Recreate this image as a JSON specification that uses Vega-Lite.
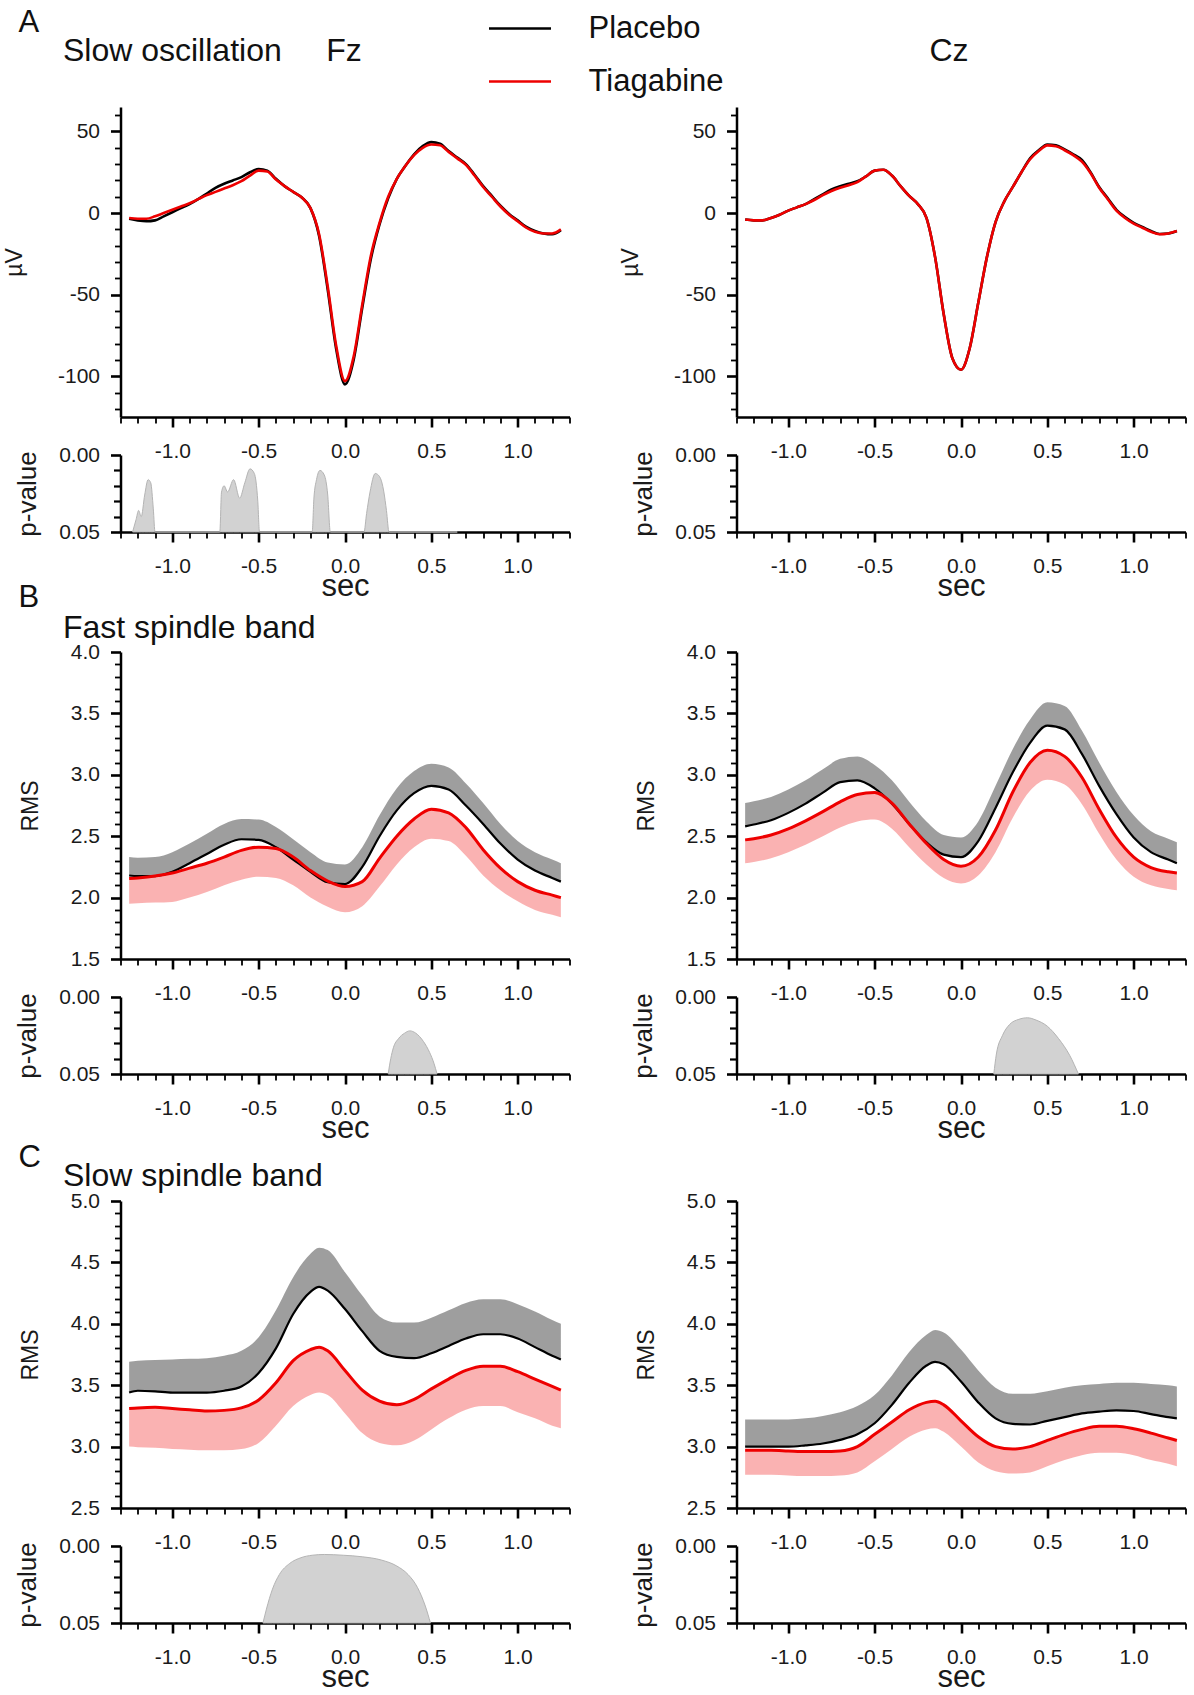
{
  "$schema": "https://vega.github.io/schema/vega-lite/v6.json",
  "padding": {"left": 3.5, "top": 0, "right": 0, "bottom": 0},
  "background": "white",
  "config": {
    "view": {"stroke": null},
    "font": "Liberation Sans",
    "axis": {"grid": false, "domainColor": "#000000", "domainWidth": 2.5, "tickColor": "#000000", "labelFont": "Liberation Sans", "labelFontSize": 21, "labelColor": "#1a1a1a", "titleFont": "Liberation Sans", "titleFontWeight": "normal", "titleColor": "#1a1a1a", "labelOverlap": false, "labelFlush": false, "labelBound": false},
    "title": {"font": "Liberation Sans", "fontWeight": "normal", "color": "#111111", "fontSize": 31, "subtitleFont": "Liberation Sans", "subtitleFontSize": 32, "subtitleColor": "#111111", "anchor": "start", "frame": "group"}
  },
  "datasets": {
    "aFz": [
      {"t":-1.25,"cond":"Placebo","v":-3.5},{"t":-1.2,"cond":"Placebo","v":-4.5},{"t":-1.15,"cond":"Placebo","v":-5},{"t":-1.1,"cond":"Placebo","v":-4.5},{"t":-1.05,"cond":"Placebo","v":-2},{"t":-1,"cond":"Placebo","v":0.5},{"t":-0.95,"cond":"Placebo","v":3},{"t":-0.9,"cond":"Placebo","v":5.5},{"t":-0.85,"cond":"Placebo","v":8.5},{"t":-0.8,"cond":"Placebo","v":12},{"t":-0.75,"cond":"Placebo","v":15.5},{"t":-0.7,"cond":"Placebo","v":18},{"t":-0.65,"cond":"Placebo","v":20},{"t":-0.6,"cond":"Placebo","v":22},{"t":-0.55,"cond":"Placebo","v":25},{"t":-0.5,"cond":"Placebo","v":27},{"t":-0.45,"cond":"Placebo","v":26},{"t":-0.4,"cond":"Placebo","v":21},{"t":-0.35,"cond":"Placebo","v":16.5},{"t":-0.3,"cond":"Placebo","v":13},{"t":-0.25,"cond":"Placebo","v":9.5},{"t":-0.2,"cond":"Placebo","v":3},{"t":-0.15,"cond":"Placebo","v":-14},{"t":-0.1,"cond":"Placebo","v":-47},{"t":-0.05,"cond":"Placebo","v":-84},{"t":0,"cond":"Placebo","v":-105},{"t":0.05,"cond":"Placebo","v":-90},{"t":0.1,"cond":"Placebo","v":-58},{"t":0.15,"cond":"Placebo","v":-28},{"t":0.2,"cond":"Placebo","v":-7},{"t":0.25,"cond":"Placebo","v":9},{"t":0.3,"cond":"Placebo","v":21},{"t":0.35,"cond":"Placebo","v":29},{"t":0.4,"cond":"Placebo","v":36},{"t":0.45,"cond":"Placebo","v":41},{"t":0.5,"cond":"Placebo","v":43.5},{"t":0.55,"cond":"Placebo","v":42.5},{"t":0.6,"cond":"Placebo","v":38},{"t":0.65,"cond":"Placebo","v":34},{"t":0.7,"cond":"Placebo","v":30},{"t":0.75,"cond":"Placebo","v":23.5},{"t":0.8,"cond":"Placebo","v":16.5},{"t":0.85,"cond":"Placebo","v":10.5},{"t":0.9,"cond":"Placebo","v":4.5},{"t":0.95,"cond":"Placebo","v":-0.5},{"t":1,"cond":"Placebo","v":-4.5},{"t":1.05,"cond":"Placebo","v":-8.5},{"t":1.1,"cond":"Placebo","v":-11},{"t":1.15,"cond":"Placebo","v":-12.5},{"t":1.2,"cond":"Placebo","v":-13},{"t":1.25,"cond":"Placebo","v":-10.5},
      {"t":-1.25,"cond":"Tiagabine","v":-3},{"t":-1.2,"cond":"Tiagabine","v":-3.5},{"t":-1.15,"cond":"Tiagabine","v":-3.5},{"t":-1.1,"cond":"Tiagabine","v":-2},{"t":-1.05,"cond":"Tiagabine","v":0},{"t":-1,"cond":"Tiagabine","v":2},{"t":-0.95,"cond":"Tiagabine","v":4},{"t":-0.9,"cond":"Tiagabine","v":6},{"t":-0.85,"cond":"Tiagabine","v":8.5},{"t":-0.8,"cond":"Tiagabine","v":11},{"t":-0.75,"cond":"Tiagabine","v":13},{"t":-0.7,"cond":"Tiagabine","v":15},{"t":-0.65,"cond":"Tiagabine","v":17},{"t":-0.6,"cond":"Tiagabine","v":19.5},{"t":-0.55,"cond":"Tiagabine","v":23},{"t":-0.5,"cond":"Tiagabine","v":26},{"t":-0.45,"cond":"Tiagabine","v":25.5},{"t":-0.4,"cond":"Tiagabine","v":20.5},{"t":-0.35,"cond":"Tiagabine","v":16.5},{"t":-0.3,"cond":"Tiagabine","v":13},{"t":-0.25,"cond":"Tiagabine","v":9.5},{"t":-0.2,"cond":"Tiagabine","v":3},{"t":-0.15,"cond":"Tiagabine","v":-13},{"t":-0.1,"cond":"Tiagabine","v":-45},{"t":-0.05,"cond":"Tiagabine","v":-82},{"t":0,"cond":"Tiagabine","v":-103},{"t":0.05,"cond":"Tiagabine","v":-88},{"t":0.1,"cond":"Tiagabine","v":-56},{"t":0.15,"cond":"Tiagabine","v":-26},{"t":0.2,"cond":"Tiagabine","v":-6},{"t":0.25,"cond":"Tiagabine","v":10},{"t":0.3,"cond":"Tiagabine","v":21},{"t":0.35,"cond":"Tiagabine","v":29},{"t":0.4,"cond":"Tiagabine","v":35.5},{"t":0.45,"cond":"Tiagabine","v":40},{"t":0.5,"cond":"Tiagabine","v":42},{"t":0.55,"cond":"Tiagabine","v":41.5},{"t":0.6,"cond":"Tiagabine","v":37.5},{"t":0.65,"cond":"Tiagabine","v":33.5},{"t":0.7,"cond":"Tiagabine","v":29.5},{"t":0.75,"cond":"Tiagabine","v":23},{"t":0.8,"cond":"Tiagabine","v":16},{"t":0.85,"cond":"Tiagabine","v":10},{"t":0.9,"cond":"Tiagabine","v":4},{"t":0.95,"cond":"Tiagabine","v":-1},{"t":1,"cond":"Tiagabine","v":-5},{"t":1.05,"cond":"Tiagabine","v":-9},{"t":1.1,"cond":"Tiagabine","v":-11.5},{"t":1.15,"cond":"Tiagabine","v":-12.5},{"t":1.2,"cond":"Tiagabine","v":-12.5},{"t":1.25,"cond":"Tiagabine","v":-10}
    ],
    "aCz": [
      {"t":-1.25,"cond":"Placebo","v":-4},{"t":-1.2,"cond":"Placebo","v":-4.5},{"t":-1.15,"cond":"Placebo","v":-4.5},{"t":-1.1,"cond":"Placebo","v":-3},{"t":-1.05,"cond":"Placebo","v":-1},{"t":-1,"cond":"Placebo","v":1.5},{"t":-0.95,"cond":"Placebo","v":3.5},{"t":-0.9,"cond":"Placebo","v":5.5},{"t":-0.85,"cond":"Placebo","v":8.5},{"t":-0.8,"cond":"Placebo","v":11.5},{"t":-0.75,"cond":"Placebo","v":14.5},{"t":-0.7,"cond":"Placebo","v":16.5},{"t":-0.65,"cond":"Placebo","v":18},{"t":-0.6,"cond":"Placebo","v":19.5},{"t":-0.55,"cond":"Placebo","v":22.5},{"t":-0.5,"cond":"Placebo","v":26},{"t":-0.45,"cond":"Placebo","v":26.5},{"t":-0.4,"cond":"Placebo","v":23},{"t":-0.35,"cond":"Placebo","v":16.5},{"t":-0.3,"cond":"Placebo","v":10.5},{"t":-0.25,"cond":"Placebo","v":5.5},{"t":-0.2,"cond":"Placebo","v":-3},{"t":-0.15,"cond":"Placebo","v":-27},{"t":-0.1,"cond":"Placebo","v":-62},{"t":-0.05,"cond":"Placebo","v":-89},{"t":0,"cond":"Placebo","v":-96},{"t":0.05,"cond":"Placebo","v":-83},{"t":0.1,"cond":"Placebo","v":-55},{"t":0.15,"cond":"Placebo","v":-27},{"t":0.2,"cond":"Placebo","v":-5.5},{"t":0.25,"cond":"Placebo","v":7},{"t":0.3,"cond":"Placebo","v":16},{"t":0.35,"cond":"Placebo","v":25},{"t":0.4,"cond":"Placebo","v":33.5},{"t":0.45,"cond":"Placebo","v":38.5},{"t":0.5,"cond":"Placebo","v":42},{"t":0.55,"cond":"Placebo","v":41.5},{"t":0.6,"cond":"Placebo","v":39},{"t":0.65,"cond":"Placebo","v":36},{"t":0.7,"cond":"Placebo","v":32.5},{"t":0.75,"cond":"Placebo","v":25},{"t":0.8,"cond":"Placebo","v":16},{"t":0.85,"cond":"Placebo","v":9},{"t":0.9,"cond":"Placebo","v":2},{"t":0.95,"cond":"Placebo","v":-2.5},{"t":1,"cond":"Placebo","v":-6},{"t":1.05,"cond":"Placebo","v":-8.5},{"t":1.1,"cond":"Placebo","v":-11},{"t":1.15,"cond":"Placebo","v":-12.8},{"t":1.2,"cond":"Placebo","v":-12.5},{"t":1.25,"cond":"Placebo","v":-11},
      {"t":-1.25,"cond":"Tiagabine","v":-4},{"t":-1.2,"cond":"Tiagabine","v":-4.5},{"t":-1.15,"cond":"Tiagabine","v":-4.5},{"t":-1.1,"cond":"Tiagabine","v":-3},{"t":-1.05,"cond":"Tiagabine","v":-1},{"t":-1,"cond":"Tiagabine","v":1.5},{"t":-0.95,"cond":"Tiagabine","v":3.5},{"t":-0.9,"cond":"Tiagabine","v":5.5},{"t":-0.85,"cond":"Tiagabine","v":8},{"t":-0.8,"cond":"Tiagabine","v":11},{"t":-0.75,"cond":"Tiagabine","v":13.5},{"t":-0.7,"cond":"Tiagabine","v":15.5},{"t":-0.65,"cond":"Tiagabine","v":17},{"t":-0.6,"cond":"Tiagabine","v":19},{"t":-0.55,"cond":"Tiagabine","v":22.5},{"t":-0.5,"cond":"Tiagabine","v":26},{"t":-0.45,"cond":"Tiagabine","v":26.5},{"t":-0.4,"cond":"Tiagabine","v":23},{"t":-0.35,"cond":"Tiagabine","v":16.5},{"t":-0.3,"cond":"Tiagabine","v":10.5},{"t":-0.25,"cond":"Tiagabine","v":5.5},{"t":-0.2,"cond":"Tiagabine","v":-3},{"t":-0.15,"cond":"Tiagabine","v":-27},{"t":-0.1,"cond":"Tiagabine","v":-62},{"t":-0.05,"cond":"Tiagabine","v":-89},{"t":0,"cond":"Tiagabine","v":-96},{"t":0.05,"cond":"Tiagabine","v":-83},{"t":0.1,"cond":"Tiagabine","v":-55},{"t":0.15,"cond":"Tiagabine","v":-27},{"t":0.2,"cond":"Tiagabine","v":-5.5},{"t":0.25,"cond":"Tiagabine","v":7},{"t":0.3,"cond":"Tiagabine","v":16},{"t":0.35,"cond":"Tiagabine","v":25},{"t":0.4,"cond":"Tiagabine","v":33},{"t":0.45,"cond":"Tiagabine","v":38},{"t":0.5,"cond":"Tiagabine","v":41.5},{"t":0.55,"cond":"Tiagabine","v":41},{"t":0.6,"cond":"Tiagabine","v":38.5},{"t":0.65,"cond":"Tiagabine","v":35.5},{"t":0.7,"cond":"Tiagabine","v":31.5},{"t":0.75,"cond":"Tiagabine","v":24.5},{"t":0.8,"cond":"Tiagabine","v":15.5},{"t":0.85,"cond":"Tiagabine","v":8.5},{"t":0.9,"cond":"Tiagabine","v":1.5},{"t":0.95,"cond":"Tiagabine","v":-3},{"t":1,"cond":"Tiagabine","v":-6.5},{"t":1.05,"cond":"Tiagabine","v":-9},{"t":1.1,"cond":"Tiagabine","v":-11.5},{"t":1.15,"cond":"Tiagabine","v":-13},{"t":1.2,"cond":"Tiagabine","v":-12.5},{"t":1.25,"cond":"Tiagabine","v":-11}
    ],
    "bFz": [
      {"t":-1.25,"cond":"Placebo","v":2.18,"e":2.33},{"t":-1.2,"cond":"Placebo","v":2.175,"e":2.325},{"t":-1.1,"cond":"Placebo","v":2.175,"e":2.33},{"t":-1,"cond":"Placebo","v":2.21,"e":2.37},{"t":-0.9,"cond":"Placebo","v":2.28,"e":2.44},{"t":-0.8,"cond":"Placebo","v":2.355,"e":2.52},{"t":-0.7,"cond":"Placebo","v":2.43,"e":2.6},{"t":-0.6,"cond":"Placebo","v":2.475,"e":2.64},{"t":-0.5,"cond":"Placebo","v":2.47,"e":2.635},{"t":-0.4,"cond":"Placebo","v":2.41,"e":2.575},{"t":-0.3,"cond":"Placebo","v":2.31,"e":2.475},{"t":-0.2,"cond":"Placebo","v":2.21,"e":2.37},{"t":-0.1,"cond":"Placebo","v":2.125,"e":2.285},{"t":0,"cond":"Placebo","v":2.11,"e":2.27},{"t":0.1,"cond":"Placebo","v":2.25,"e":2.41},{"t":0.2,"cond":"Placebo","v":2.5,"e":2.67},{"t":0.3,"cond":"Placebo","v":2.71,"e":2.89},{"t":0.4,"cond":"Placebo","v":2.85,"e":3.03},{"t":0.5,"cond":"Placebo","v":2.91,"e":3.09},{"t":0.6,"cond":"Placebo","v":2.88,"e":3.06},{"t":0.7,"cond":"Placebo","v":2.75,"e":2.93},{"t":0.8,"cond":"Placebo","v":2.6,"e":2.77},{"t":0.9,"cond":"Placebo","v":2.44,"e":2.6},{"t":1,"cond":"Placebo","v":2.31,"e":2.46},{"t":1.1,"cond":"Placebo","v":2.22,"e":2.37},{"t":1.2,"cond":"Placebo","v":2.16,"e":2.31},{"t":1.25,"cond":"Placebo","v":2.13,"e":2.28},
      {"t":-1.25,"cond":"Tiagabine","v":2.155,"e":1.95},{"t":-1.2,"cond":"Tiagabine","v":2.16,"e":1.955},{"t":-1.1,"cond":"Tiagabine","v":2.175,"e":1.96},{"t":-1,"cond":"Tiagabine","v":2.2,"e":1.965},{"t":-0.9,"cond":"Tiagabine","v":2.24,"e":2.0},{"t":-0.8,"cond":"Tiagabine","v":2.28,"e":2.045},{"t":-0.7,"cond":"Tiagabine","v":2.33,"e":2.1},{"t":-0.6,"cond":"Tiagabine","v":2.385,"e":2.145},{"t":-0.5,"cond":"Tiagabine","v":2.41,"e":2.17},{"t":-0.4,"cond":"Tiagabine","v":2.4,"e":2.16},{"t":-0.3,"cond":"Tiagabine","v":2.33,"e":2.1},{"t":-0.2,"cond":"Tiagabine","v":2.22,"e":2.0},{"t":-0.1,"cond":"Tiagabine","v":2.135,"e":1.925},{"t":0,"cond":"Tiagabine","v":2.09,"e":1.88},{"t":0.1,"cond":"Tiagabine","v":2.13,"e":1.93},{"t":0.2,"cond":"Tiagabine","v":2.32,"e":2.09},{"t":0.3,"cond":"Tiagabine","v":2.5,"e":2.27},{"t":0.4,"cond":"Tiagabine","v":2.64,"e":2.41},{"t":0.5,"cond":"Tiagabine","v":2.72,"e":2.48},{"t":0.6,"cond":"Tiagabine","v":2.69,"e":2.46},{"t":0.7,"cond":"Tiagabine","v":2.57,"e":2.34},{"t":0.8,"cond":"Tiagabine","v":2.39,"e":2.18},{"t":0.9,"cond":"Tiagabine","v":2.24,"e":2.06},{"t":1,"cond":"Tiagabine","v":2.13,"e":1.97},{"t":1.1,"cond":"Tiagabine","v":2.06,"e":1.9},{"t":1.2,"cond":"Tiagabine","v":2.02,"e":1.86},{"t":1.25,"cond":"Tiagabine","v":2.0,"e":1.84}
    ],
    "bCz": [
      {"t":-1.25,"cond":"Placebo","v":2.58,"e":2.77},{"t":-1.2,"cond":"Placebo","v":2.595,"e":2.785},{"t":-1.1,"cond":"Placebo","v":2.63,"e":2.82},{"t":-1,"cond":"Placebo","v":2.69,"e":2.88},{"t":-0.9,"cond":"Placebo","v":2.765,"e":2.955},{"t":-0.8,"cond":"Placebo","v":2.855,"e":3.045},{"t":-0.7,"cond":"Placebo","v":2.94,"e":3.13},{"t":-0.6,"cond":"Placebo","v":2.955,"e":3.15},{"t":-0.5,"cond":"Placebo","v":2.89,"e":3.08},{"t":-0.4,"cond":"Placebo","v":2.765,"e":2.955},{"t":-0.3,"cond":"Placebo","v":2.6,"e":2.78},{"t":-0.2,"cond":"Placebo","v":2.45,"e":2.62},{"t":-0.1,"cond":"Placebo","v":2.35,"e":2.51},{"t":0,"cond":"Placebo","v":2.33,"e":2.49},{"t":0.1,"cond":"Placebo","v":2.46,"e":2.62},{"t":0.2,"cond":"Placebo","v":2.73,"e":2.91},{"t":0.3,"cond":"Placebo","v":3.02,"e":3.21},{"t":0.4,"cond":"Placebo","v":3.26,"e":3.45},{"t":0.5,"cond":"Placebo","v":3.4,"e":3.59},{"t":0.6,"cond":"Placebo","v":3.37,"e":3.56},{"t":0.7,"cond":"Placebo","v":3.17,"e":3.36},{"t":0.8,"cond":"Placebo","v":2.91,"e":3.1},{"t":0.9,"cond":"Placebo","v":2.68,"e":2.86},{"t":1,"cond":"Placebo","v":2.49,"e":2.67},{"t":1.1,"cond":"Placebo","v":2.37,"e":2.54},{"t":1.2,"cond":"Placebo","v":2.31,"e":2.48},{"t":1.25,"cond":"Placebo","v":2.28,"e":2.45},
      {"t":-1.25,"cond":"Tiagabine","v":2.47,"e":2.28},{"t":-1.2,"cond":"Tiagabine","v":2.48,"e":2.29},{"t":-1.1,"cond":"Tiagabine","v":2.51,"e":2.32},{"t":-1,"cond":"Tiagabine","v":2.56,"e":2.37},{"t":-0.9,"cond":"Tiagabine","v":2.625,"e":2.43},{"t":-0.8,"cond":"Tiagabine","v":2.7,"e":2.5},{"t":-0.7,"cond":"Tiagabine","v":2.78,"e":2.57},{"t":-0.6,"cond":"Tiagabine","v":2.84,"e":2.62},{"t":-0.5,"cond":"Tiagabine","v":2.855,"e":2.635},{"t":-0.4,"cond":"Tiagabine","v":2.77,"e":2.56},{"t":-0.3,"cond":"Tiagabine","v":2.6,"e":2.41},{"t":-0.2,"cond":"Tiagabine","v":2.44,"e":2.27},{"t":-0.1,"cond":"Tiagabine","v":2.31,"e":2.16},{"t":0,"cond":"Tiagabine","v":2.255,"e":2.115},{"t":0.1,"cond":"Tiagabine","v":2.33,"e":2.18},{"t":0.2,"cond":"Tiagabine","v":2.55,"e":2.37},{"t":0.3,"cond":"Tiagabine","v":2.86,"e":2.65},{"t":0.4,"cond":"Tiagabine","v":3.1,"e":2.87},{"t":0.5,"cond":"Tiagabine","v":3.2,"e":2.96},{"t":0.6,"cond":"Tiagabine","v":3.15,"e":2.92},{"t":0.7,"cond":"Tiagabine","v":2.98,"e":2.76},{"t":0.8,"cond":"Tiagabine","v":2.72,"e":2.52},{"t":0.9,"cond":"Tiagabine","v":2.49,"e":2.31},{"t":1,"cond":"Tiagabine","v":2.33,"e":2.17},{"t":1.1,"cond":"Tiagabine","v":2.245,"e":2.1},{"t":1.2,"cond":"Tiagabine","v":2.21,"e":2.07},{"t":1.25,"cond":"Tiagabine","v":2.2,"e":2.06}
    ],
    "cFz": [
      {"t":-1.25,"cond":"Placebo","v":3.44,"e":3.69},{"t":-1.2,"cond":"Placebo","v":3.455,"e":3.7},{"t":-1.1,"cond":"Placebo","v":3.45,"e":3.705},{"t":-1,"cond":"Placebo","v":3.44,"e":3.71},{"t":-0.9,"cond":"Placebo","v":3.44,"e":3.715},{"t":-0.8,"cond":"Placebo","v":3.44,"e":3.72},{"t":-0.7,"cond":"Placebo","v":3.455,"e":3.74},{"t":-0.6,"cond":"Placebo","v":3.49,"e":3.78},{"t":-0.5,"cond":"Placebo","v":3.6,"e":3.89},{"t":-0.4,"cond":"Placebo","v":3.8,"e":4.11},{"t":-0.3,"cond":"Placebo","v":4.08,"e":4.38},{"t":-0.2,"cond":"Placebo","v":4.26,"e":4.57},{"t":-0.15,"cond":"Placebo","v":4.3,"e":4.62},{"t":-0.1,"cond":"Placebo","v":4.27,"e":4.6},{"t":0,"cond":"Placebo","v":4.12,"e":4.42},{"t":0.1,"cond":"Placebo","v":3.94,"e":4.23},{"t":0.2,"cond":"Placebo","v":3.78,"e":4.06},{"t":0.3,"cond":"Placebo","v":3.73,"e":4.01},{"t":0.4,"cond":"Placebo","v":3.72,"e":4.01},{"t":0.5,"cond":"Placebo","v":3.76,"e":4.05},{"t":0.6,"cond":"Placebo","v":3.82,"e":4.11},{"t":0.7,"cond":"Placebo","v":3.88,"e":4.17},{"t":0.8,"cond":"Placebo","v":3.915,"e":4.2},{"t":0.9,"cond":"Placebo","v":3.915,"e":4.2},{"t":1,"cond":"Placebo","v":3.88,"e":4.16},{"t":1.1,"cond":"Placebo","v":3.81,"e":4.1},{"t":1.2,"cond":"Placebo","v":3.74,"e":4.03},{"t":1.25,"cond":"Placebo","v":3.71,"e":4.0},
      {"t":-1.25,"cond":"Tiagabine","v":3.31,"e":3.0},{"t":-1.2,"cond":"Tiagabine","v":3.315,"e":2.995},{"t":-1.1,"cond":"Tiagabine","v":3.32,"e":2.99},{"t":-1,"cond":"Tiagabine","v":3.31,"e":2.98},{"t":-0.9,"cond":"Tiagabine","v":3.3,"e":2.975},{"t":-0.8,"cond":"Tiagabine","v":3.29,"e":2.97},{"t":-0.7,"cond":"Tiagabine","v":3.295,"e":2.97},{"t":-0.6,"cond":"Tiagabine","v":3.315,"e":2.98},{"t":-0.5,"cond":"Tiagabine","v":3.38,"e":3.03},{"t":-0.4,"cond":"Tiagabine","v":3.52,"e":3.17},{"t":-0.3,"cond":"Tiagabine","v":3.7,"e":3.33},{"t":-0.2,"cond":"Tiagabine","v":3.79,"e":3.42},{"t":-0.15,"cond":"Tiagabine","v":3.81,"e":3.44},{"t":-0.1,"cond":"Tiagabine","v":3.78,"e":3.42},{"t":0,"cond":"Tiagabine","v":3.62,"e":3.27},{"t":0.1,"cond":"Tiagabine","v":3.46,"e":3.11},{"t":0.2,"cond":"Tiagabine","v":3.37,"e":3.03},{"t":0.3,"cond":"Tiagabine","v":3.34,"e":3.01},{"t":0.4,"cond":"Tiagabine","v":3.385,"e":3.05},{"t":0.5,"cond":"Tiagabine","v":3.47,"e":3.14},{"t":0.6,"cond":"Tiagabine","v":3.55,"e":3.23},{"t":0.7,"cond":"Tiagabine","v":3.62,"e":3.3},{"t":0.8,"cond":"Tiagabine","v":3.655,"e":3.33},{"t":0.9,"cond":"Tiagabine","v":3.655,"e":3.33},{"t":1,"cond":"Tiagabine","v":3.61,"e":3.28},{"t":1.1,"cond":"Tiagabine","v":3.55,"e":3.23},{"t":1.2,"cond":"Tiagabine","v":3.49,"e":3.17},{"t":1.25,"cond":"Tiagabine","v":3.46,"e":3.15}
    ],
    "cCz": [
      {"t":-1.25,"cond":"Placebo","v":3.0,"e":3.22},{"t":-1.2,"cond":"Placebo","v":3.0,"e":3.22},{"t":-1.1,"cond":"Placebo","v":3.0,"e":3.22},{"t":-1,"cond":"Placebo","v":3.0,"e":3.22},{"t":-0.9,"cond":"Placebo","v":3.01,"e":3.23},{"t":-0.8,"cond":"Placebo","v":3.025,"e":3.25},{"t":-0.7,"cond":"Placebo","v":3.055,"e":3.28},{"t":-0.6,"cond":"Placebo","v":3.1,"e":3.33},{"t":-0.5,"cond":"Placebo","v":3.19,"e":3.42},{"t":-0.4,"cond":"Placebo","v":3.34,"e":3.58},{"t":-0.3,"cond":"Placebo","v":3.52,"e":3.77},{"t":-0.2,"cond":"Placebo","v":3.66,"e":3.91},{"t":-0.15,"cond":"Placebo","v":3.69,"e":3.95},{"t":-0.1,"cond":"Placebo","v":3.67,"e":3.93},{"t":0,"cond":"Placebo","v":3.53,"e":3.79},{"t":0.1,"cond":"Placebo","v":3.36,"e":3.62},{"t":0.2,"cond":"Placebo","v":3.23,"e":3.48},{"t":0.3,"cond":"Placebo","v":3.185,"e":3.43},{"t":0.4,"cond":"Placebo","v":3.18,"e":3.43},{"t":0.5,"cond":"Placebo","v":3.21,"e":3.45},{"t":0.6,"cond":"Placebo","v":3.24,"e":3.48},{"t":0.7,"cond":"Placebo","v":3.27,"e":3.5},{"t":0.8,"cond":"Placebo","v":3.285,"e":3.51},{"t":0.9,"cond":"Placebo","v":3.295,"e":3.52},{"t":1,"cond":"Placebo","v":3.29,"e":3.52},{"t":1.1,"cond":"Placebo","v":3.265,"e":3.51},{"t":1.2,"cond":"Placebo","v":3.24,"e":3.5},{"t":1.25,"cond":"Placebo","v":3.23,"e":3.49},
      {"t":-1.25,"cond":"Tiagabine","v":2.97,"e":2.77},{"t":-1.2,"cond":"Tiagabine","v":2.97,"e":2.77},{"t":-1.1,"cond":"Tiagabine","v":2.97,"e":2.77},{"t":-1,"cond":"Tiagabine","v":2.965,"e":2.765},{"t":-0.9,"cond":"Tiagabine","v":2.96,"e":2.76},{"t":-0.8,"cond":"Tiagabine","v":2.96,"e":2.76},{"t":-0.7,"cond":"Tiagabine","v":2.965,"e":2.765},{"t":-0.6,"cond":"Tiagabine","v":3.0,"e":2.79},{"t":-0.5,"cond":"Tiagabine","v":3.1,"e":2.88},{"t":-0.4,"cond":"Tiagabine","v":3.2,"e":2.98},{"t":-0.3,"cond":"Tiagabine","v":3.3,"e":3.08},{"t":-0.2,"cond":"Tiagabine","v":3.36,"e":3.14},{"t":-0.15,"cond":"Tiagabine","v":3.37,"e":3.15},{"t":-0.1,"cond":"Tiagabine","v":3.34,"e":3.12},{"t":0,"cond":"Tiagabine","v":3.21,"e":3.0},{"t":0.1,"cond":"Tiagabine","v":3.08,"e":2.87},{"t":0.2,"cond":"Tiagabine","v":3.0,"e":2.8},{"t":0.3,"cond":"Tiagabine","v":2.98,"e":2.78},{"t":0.4,"cond":"Tiagabine","v":3.0,"e":2.79},{"t":0.5,"cond":"Tiagabine","v":3.05,"e":2.84},{"t":0.6,"cond":"Tiagabine","v":3.1,"e":2.89},{"t":0.7,"cond":"Tiagabine","v":3.14,"e":2.93},{"t":0.8,"cond":"Tiagabine","v":3.165,"e":2.95},{"t":0.9,"cond":"Tiagabine","v":3.165,"e":2.95},{"t":1,"cond":"Tiagabine","v":3.145,"e":2.93},{"t":1.1,"cond":"Tiagabine","v":3.11,"e":2.89},{"t":1.2,"cond":"Tiagabine","v":3.07,"e":2.86},{"t":1.25,"cond":"Tiagabine","v":3.05,"e":2.84}
    ],
    "pAFz": [
      {"t":-1.23,"p":0.05},{"t":-1.21,"p":0.042},{"t":-1.195,"p":0.036},{"t":-1.18,"p":0.04},{"t":-1.16,"p":0.026},{"t":-1.14,"p":0.016},{"t":-1.125,"p":0.018},{"t":-1.11,"p":0.035},{"t":-1.1,"p":0.05},
      {"t":-0.725,"p":0.05},{"t":-0.715,"p":0.024},{"t":-0.7,"p":0.02},{"t":-0.68,"p":0.024},{"t":-0.645,"p":0.016},{"t":-0.61,"p":0.028},{"t":-0.58,"p":0.018},{"t":-0.55,"p":0.009},{"t":-0.525,"p":0.012},{"t":-0.505,"p":0.03},{"t":-0.495,"p":0.05},
      {"t":-0.19,"p":0.05},{"t":-0.18,"p":0.028},{"t":-0.165,"p":0.016},{"t":-0.145,"p":0.01},{"t":-0.12,"p":0.013},{"t":-0.1,"p":0.026},{"t":-0.085,"p":0.05},
      {"t":0.11,"p":0.05},{"t":0.125,"p":0.038},{"t":0.145,"p":0.024},{"t":0.175,"p":0.012},{"t":0.2,"p":0.014},{"t":0.225,"p":0.024},{"t":0.24,"p":0.036},{"t":0.255,"p":0.05},{"t":0.65,"p":0.05}
    ],
    "pBFz": [
      {"t":0.25,"p":0.05},{"t":0.265,"p":0.04},{"t":0.28,"p":0.033},{"t":0.31,"p":0.027},{"t":0.345,"p":0.0235},{"t":0.375,"p":0.022},{"t":0.41,"p":0.0235},{"t":0.455,"p":0.029},{"t":0.49,"p":0.036},{"t":0.515,"p":0.043},{"t":0.533,"p":0.05}
    ],
    "pBCz": [
      {"t":0.19,"p":0.05},{"t":0.205,"p":0.037},{"t":0.24,"p":0.025},{"t":0.28,"p":0.018},{"t":0.335,"p":0.0145},{"t":0.385,"p":0.0135},{"t":0.435,"p":0.015},{"t":0.5,"p":0.019},{"t":0.565,"p":0.027},{"t":0.63,"p":0.038},{"t":0.68,"p":0.05}
    ],
    "pCFz": [
      {"t":-0.475,"p":0.05},{"t":-0.455,"p":0.041},{"t":-0.42,"p":0.028},{"t":-0.38,"p":0.0185},{"t":-0.32,"p":0.0113},{"t":-0.255,"p":0.0076},{"t":-0.19,"p":0.006},{"t":-0.12,"p":0.0055},{"t":-0.01,"p":0.006},{"t":0.1,"p":0.007},{"t":0.21,"p":0.0091},{"t":0.3,"p":0.013},{"t":0.365,"p":0.0185},{"t":0.42,"p":0.027},{"t":0.465,"p":0.039},{"t":0.495,"p":0.05}
    ],
    "pNone": []
  },
  "columns": 2,
  "spacing": {"row": 38, "column": 167},
  "bounds": "flush",
  "concat": [
    {"width": 449, "height": 69, "data": {"name": "pNone"}, "mark": {"type": "point", "opacity": 0}},
    {"width": 449, "height": 69, "data": {"name": "pNone"}, "mark": {"type": "point", "opacity": 0}},
    {
      "width": 449, "height": 310,
      "data": {"name": "aFz"},
      "title": {"text": "A", "subtitle": "\u200b\u00a0\u00a0\u00a0\u00a0\u00a0Slow oscillation\u00a0\u00a0\u00a0\u00a0\u00a0Fz", "dx": -102, "offset": 36, "subtitlePadding": -3},
      "mark": {"type": "line", "interpolate": "monotone", "strokeWidth": 2.6},
      "encoding": {
        "x": {"field": "t", "type": "quantitative", "scale": {"domain": [-1.3, 1.3], "nice": false, "zero": false},
          "axis": {"values": [-1.3,-1.2,-1.1,-1,-0.9,-0.8,-0.7,-0.6,-0.5,-0.4,-0.3,-0.2,-0.1,0,0.1,0.2,0.3,0.4,0.5,0.6,0.7,0.8,0.9,1,1.1,1.2,1.3], "title": null, "labelPadding": 13,
            "labelExpr": "abs(datum.value*2-round(datum.value*2))<0.01 ? (datum.value < -0.01 ? '-' : '') + format(abs(datum.value), '.1f') : ''",
            "tickSize": {"condition": {"test": "abs(datum.value*2-round(datum.value*2))<0.01", "value": 10}, "value": 6},
            "tickWidth": {"condition": {"test": "abs(datum.value*2-round(datum.value*2))<0.01", "value": 2.6}, "value": 1.8}}},
        "y": {"field": "v", "type": "quantitative", "scale": {"domain": [-125, 65], "nice": false, "zero": false},
          "axis": {"values": [-120,-110,-100,-90,-80,-70,-60,-50,-40,-30,-20,-10,0,10,20,30,40,50,60], "title": "µV", "titleFontSize": 23, "titleX": -106, "titleY": 155, "titleAngle": -90, "titleBaseline": "middle", "titleAlign": "center", "labelPadding": 11,
            "labelExpr": "abs(datum.value % 50) < 0.01 ? (datum.value < 0 ? '-' : '') + format(abs(datum.value), 'd') : ''",
            "tickSize": {"condition": {"test": "abs(datum.value % 50) < 0.01", "value": 10}, "value": 6},
            "tickWidth": {"condition": {"test": "abs(datum.value % 50) < 0.01", "value": 2.6}, "value": 1.8}}},
        "color": {"field": "cond", "type": "nominal", "scale": {"domain": ["Placebo", "Tiagabine"], "range": ["#000000", "#ee0000"]},
          "legend": {"orient": "none", "legendX": 382.5, "legendY": 11.5, "title": null, "symbolType": "M-2,0H2", "symbolSize": 961, "symbolStrokeWidth": 2.6, "labelFontSize": 31, "labelFont": "Liberation Sans", "labelColor": "#111111", "labelOffset": 51.5, "rowPadding": 21, "padding": 0, "labelLimit": 400}}
      }
    },
    {
      "width": 449, "height": 310,
      "data": {"name": "aCz"},
      "title": {"text": "Cz", "anchor": "middle", "dx": -12, "offset": 36, "fontSize": 32},
      "encoding": {
        "x": {"field": "t", "type": "quantitative", "scale": {"domain": [-1.3, 1.3], "nice": false, "zero": false},
          "axis": {"values": [-1.3,-1.2,-1.1,-1,-0.9,-0.8,-0.7,-0.6,-0.5,-0.4,-0.3,-0.2,-0.1,0,0.1,0.2,0.3,0.4,0.5,0.6,0.7,0.8,0.9,1,1.1,1.2,1.3], "title": null, "labelPadding": 13,
            "labelExpr": "abs(datum.value*2-round(datum.value*2))<0.01 ? (datum.value < -0.01 ? '-' : '') + format(abs(datum.value), '.1f') : ''",
            "tickSize": {"condition": {"test": "abs(datum.value*2-round(datum.value*2))<0.01", "value": 10}, "value": 6},
            "tickWidth": {"condition": {"test": "abs(datum.value*2-round(datum.value*2))<0.01", "value": 2.6}, "value": 1.8}}},
        "y": {"field": "v", "type": "quantitative", "scale": {"domain": [-125, 65], "nice": false, "zero": false},
          "axis": {"values": [-120,-110,-100,-90,-80,-70,-60,-50,-40,-30,-20,-10,0,10,20,30,40,50,60], "title": "µV", "titleFontSize": 23, "titleX": -106, "titleY": 155, "titleAngle": -90, "titleBaseline": "middle", "titleAlign": "center", "labelPadding": 11,
            "labelExpr": "abs(datum.value % 50) < 0.01 ? (datum.value < 0 ? '-' : '') + format(abs(datum.value), 'd') : ''",
            "tickSize": {"condition": {"test": "abs(datum.value % 50) < 0.01", "value": 10}, "value": 6},
            "tickWidth": {"condition": {"test": "abs(datum.value % 50) < 0.01", "value": 2.6}, "value": 1.8}}}
      },
      "layer": [
        {"transform": [{"filter": "datum.cond === 'Placebo'"}], "mark": {"type": "line", "interpolate": "monotone", "color": "#000000", "strokeWidth": 2.6}, "encoding": {}},
        {"transform": [{"filter": "datum.cond === 'Tiagabine'"}], "mark": {"type": "line", "interpolate": "monotone", "color": "#ee0000", "strokeWidth": 2.6}, "encoding": {}}
      ]
    },
    {
      "width": 449, "height": 77,
      "data": {"name": "pAFz"},
      "mark": {"type": "area", "interpolate": "monotone", "fill": "#d2d2d2", "stroke": "#b4b4b4", "strokeWidth": 1},
      "encoding": {
        "x": {"field": "t", "type": "quantitative", "scale": {"domain": [-1.3, 1.3], "nice": false, "zero": false},
          "axis": {"values": [-1.3,-1.2,-1.1,-1,-0.9,-0.8,-0.7,-0.6,-0.5,-0.4,-0.3,-0.2,-0.1,0,0.1,0.2,0.3,0.4,0.5,0.6,0.7,0.8,0.9,1,1.1,1.2,1.3], "title": "sec", "titleFontSize": 31, "titleX": 224.5, "titleY": 54, "titleBaseline": "middle", "titleAlign": "center", "labelPadding": 13,
            "labelExpr": "abs(datum.value*2-round(datum.value*2))<0.01 ? (datum.value < -0.01 ? '-' : '') + format(abs(datum.value), '.1f') : ''",
            "tickSize": {"condition": {"test": "abs(datum.value*2-round(datum.value*2))<0.01", "value": 10}, "value": 6},
            "tickWidth": {"condition": {"test": "abs(datum.value*2-round(datum.value*2))<0.01", "value": 2.6}, "value": 1.8}}},
        "y": {"field": "p", "type": "quantitative", "scale": {"domain": [0, 0.05], "reverse": true, "nice": false, "zero": false},
          "axis": {"values": [0, 0.01, 0.02, 0.03, 0.04, 0.05], "title": "p-value", "titleFontSize": 26, "titleX": -93, "titleY": 38.5, "titleAngle": -90, "titleBaseline": "middle", "titleAlign": "center", "labelPadding": 11,
            "labelExpr": "(datum.value < 0.001 || datum.value > 0.049) ? format(datum.value, '.2f') : ''",
            "tickSize": {"condition": {"test": "datum.value < 0.001 || datum.value > 0.049", "value": 10}, "value": 7},
            "tickWidth": {"condition": {"test": "datum.value < 0.001 || datum.value > 0.049", "value": 2.6}, "value": 2.2}}},
        "y2": {"datum": 0.05}
      }
    },
    {
      "width": 449, "height": 77,
      "data": {"name": "pNone"},
      "mark": {"type": "area", "interpolate": "monotone", "fill": "#d2d2d2", "stroke": "#b4b4b4", "strokeWidth": 1},
      "encoding": {
        "x": {"field": "t", "type": "quantitative", "scale": {"domain": [-1.3, 1.3], "nice": false, "zero": false},
          "axis": {"values": [-1.3,-1.2,-1.1,-1,-0.9,-0.8,-0.7,-0.6,-0.5,-0.4,-0.3,-0.2,-0.1,0,0.1,0.2,0.3,0.4,0.5,0.6,0.7,0.8,0.9,1,1.1,1.2,1.3], "title": "sec", "titleFontSize": 31, "titleX": 224.5, "titleY": 54, "titleBaseline": "middle", "titleAlign": "center", "labelPadding": 13,
            "labelExpr": "abs(datum.value*2-round(datum.value*2))<0.01 ? (datum.value < -0.01 ? '-' : '') + format(abs(datum.value), '.1f') : ''",
            "tickSize": {"condition": {"test": "abs(datum.value*2-round(datum.value*2))<0.01", "value": 10}, "value": 6},
            "tickWidth": {"condition": {"test": "abs(datum.value*2-round(datum.value*2))<0.01", "value": 2.6}, "value": 1.8}}},
        "y": {"field": "p", "type": "quantitative", "scale": {"domain": [0, 0.05], "reverse": true, "nice": false, "zero": false},
          "axis": {"values": [0, 0.01, 0.02, 0.03, 0.04, 0.05], "title": "p-value", "titleFontSize": 26, "titleX": -93, "titleY": 38.5, "titleAngle": -90, "titleBaseline": "middle", "titleAlign": "center", "labelPadding": 11,
            "labelExpr": "(datum.value < 0.001 || datum.value > 0.049) ? format(datum.value, '.2f') : ''",
            "tickSize": {"condition": {"test": "datum.value < 0.001 || datum.value > 0.049", "value": 10}, "value": 7},
            "tickWidth": {"condition": {"test": "datum.value < 0.001 || datum.value > 0.049", "value": 2.6}, "value": 2.2}}},
        "y2": {"datum": 0.05}
      }
    },
    {"width": 449, "height": 44, "data": {"name": "pNone"}, "mark": {"type": "point", "opacity": 0}},
    {"width": 449, "height": 44, "data": {"name": "pNone"}, "mark": {"type": "point", "opacity": 0}},
    {
      "width": 449, "height": 307,
      "data": {"name": "bFz"},
      "title": {"text": "B", "subtitle": "\u200b\u00a0\u00a0\u00a0\u00a0\u00a0Fast spindle band", "dx": -102, "offset": -4, "subtitlePadding": -1},
      "encoding": {
        "x": {"field": "t", "type": "quantitative", "scale": {"domain": [-1.3, 1.3], "nice": false, "zero": false},
          "axis": {"values": [-1.3,-1.2,-1.1,-1,-0.9,-0.8,-0.7,-0.6,-0.5,-0.4,-0.3,-0.2,-0.1,0,0.1,0.2,0.3,0.4,0.5,0.6,0.7,0.8,0.9,1,1.1,1.2,1.3], "title": null, "labelPadding": 13,
            "labelExpr": "abs(datum.value*2-round(datum.value*2))<0.01 ? (datum.value < -0.01 ? '-' : '') + format(abs(datum.value), '.1f') : ''",
            "tickSize": {"condition": {"test": "abs(datum.value*2-round(datum.value*2))<0.01", "value": 10}, "value": 6},
            "tickWidth": {"condition": {"test": "abs(datum.value*2-round(datum.value*2))<0.01", "value": 2.6}, "value": 1.8}}},
        "y": {"field": "v", "type": "quantitative", "scale": {"domain": [1.5, 4], "nice": false, "zero": false},
          "axis": {"values": [1.5,1.6,1.7,1.8,1.9,2,2.1,2.2,2.3,2.4,2.5,2.6,2.7,2.8,2.9,3,3.1,3.2,3.3,3.4,3.5,3.6,3.7,3.8,3.9,4], "title": "RMS", "titleFontSize": 23, "titleX": -90, "titleY": 153.5, "titleAngle": -90, "titleBaseline": "middle", "titleAlign": "center", "labelPadding": 11,
            "labelExpr": "abs(datum.value*2-round(datum.value*2))<0.01 ? format(datum.value, '.1f') : ''",
            "tickSize": {"condition": {"test": "abs(datum.value*2-round(datum.value*2))<0.01", "value": 10}, "value": 6},
            "tickWidth": {"condition": {"test": "abs(datum.value*2-round(datum.value*2))<0.01", "value": 2.6}, "value": 1.8}}}
      },
      "layer": [
        {"transform": [{"filter": "datum.cond === 'Placebo'"}], "mark": {"type": "area", "interpolate": "monotone", "color": "#000000", "opacity": 0.38}, "encoding": {"y2": {"field": "e"}}},
        {"transform": [{"filter": "datum.cond === 'Tiagabine'"}], "mark": {"type": "area", "interpolate": "monotone", "color": "#ee0000", "opacity": 0.3}, "encoding": {"y2": {"field": "e"}}},
        {"transform": [{"filter": "datum.cond === 'Placebo'"}], "mark": {"type": "line", "interpolate": "monotone", "color": "#000000", "strokeWidth": 2.2}, "encoding": {}},
        {"transform": [{"filter": "datum.cond === 'Tiagabine'"}], "mark": {"type": "line", "interpolate": "monotone", "color": "#ee0000", "strokeWidth": 3}, "encoding": {}}
      ]
    },
    {
      "width": 449, "height": 307,
      "data": {"name": "bCz"},
      "encoding": {
        "x": {"field": "t", "type": "quantitative", "scale": {"domain": [-1.3, 1.3], "nice": false, "zero": false},
          "axis": {"values": [-1.3,-1.2,-1.1,-1,-0.9,-0.8,-0.7,-0.6,-0.5,-0.4,-0.3,-0.2,-0.1,0,0.1,0.2,0.3,0.4,0.5,0.6,0.7,0.8,0.9,1,1.1,1.2,1.3], "title": null, "labelPadding": 13,
            "labelExpr": "abs(datum.value*2-round(datum.value*2))<0.01 ? (datum.value < -0.01 ? '-' : '') + format(abs(datum.value), '.1f') : ''",
            "tickSize": {"condition": {"test": "abs(datum.value*2-round(datum.value*2))<0.01", "value": 10}, "value": 6},
            "tickWidth": {"condition": {"test": "abs(datum.value*2-round(datum.value*2))<0.01", "value": 2.6}, "value": 1.8}}},
        "y": {"field": "v", "type": "quantitative", "scale": {"domain": [1.5, 4], "nice": false, "zero": false},
          "axis": {"values": [1.5,1.6,1.7,1.8,1.9,2,2.1,2.2,2.3,2.4,2.5,2.6,2.7,2.8,2.9,3,3.1,3.2,3.3,3.4,3.5,3.6,3.7,3.8,3.9,4], "title": "RMS", "titleFontSize": 23, "titleX": -90, "titleY": 153.5, "titleAngle": -90, "titleBaseline": "middle", "titleAlign": "center", "labelPadding": 11,
            "labelExpr": "abs(datum.value*2-round(datum.value*2))<0.01 ? format(datum.value, '.1f') : ''",
            "tickSize": {"condition": {"test": "abs(datum.value*2-round(datum.value*2))<0.01", "value": 10}, "value": 6},
            "tickWidth": {"condition": {"test": "abs(datum.value*2-round(datum.value*2))<0.01", "value": 2.6}, "value": 1.8}}}
      },
      "layer": [
        {"transform": [{"filter": "datum.cond === 'Placebo'"}], "mark": {"type": "area", "interpolate": "monotone", "color": "#000000", "opacity": 0.38}, "encoding": {"y2": {"field": "e"}}},
        {"transform": [{"filter": "datum.cond === 'Tiagabine'"}], "mark": {"type": "area", "interpolate": "monotone", "color": "#ee0000", "opacity": 0.3}, "encoding": {"y2": {"field": "e"}}},
        {"transform": [{"filter": "datum.cond === 'Placebo'"}], "mark": {"type": "line", "interpolate": "monotone", "color": "#000000", "strokeWidth": 2.2}, "encoding": {}},
        {"transform": [{"filter": "datum.cond === 'Tiagabine'"}], "mark": {"type": "line", "interpolate": "monotone", "color": "#ee0000", "strokeWidth": 3}, "encoding": {}}
      ]
    },
    {
      "width": 449, "height": 77,
      "data": {"name": "pBFz"},
      "mark": {"type": "area", "interpolate": "monotone", "fill": "#d2d2d2", "stroke": "#b4b4b4", "strokeWidth": 1},
      "encoding": {
        "x": {"field": "t", "type": "quantitative", "scale": {"domain": [-1.3, 1.3], "nice": false, "zero": false},
          "axis": {"values": [-1.3,-1.2,-1.1,-1,-0.9,-0.8,-0.7,-0.6,-0.5,-0.4,-0.3,-0.2,-0.1,0,0.1,0.2,0.3,0.4,0.5,0.6,0.7,0.8,0.9,1,1.1,1.2,1.3], "title": "sec", "titleFontSize": 31, "titleX": 224.5, "titleY": 54, "titleBaseline": "middle", "titleAlign": "center", "labelPadding": 13,
            "labelExpr": "abs(datum.value*2-round(datum.value*2))<0.01 ? (datum.value < -0.01 ? '-' : '') + format(abs(datum.value), '.1f') : ''",
            "tickSize": {"condition": {"test": "abs(datum.value*2-round(datum.value*2))<0.01", "value": 10}, "value": 6},
            "tickWidth": {"condition": {"test": "abs(datum.value*2-round(datum.value*2))<0.01", "value": 2.6}, "value": 1.8}}},
        "y": {"field": "p", "type": "quantitative", "scale": {"domain": [0, 0.05], "reverse": true, "nice": false, "zero": false},
          "axis": {"values": [0, 0.01, 0.02, 0.03, 0.04, 0.05], "title": "p-value", "titleFontSize": 26, "titleX": -93, "titleY": 38.5, "titleAngle": -90, "titleBaseline": "middle", "titleAlign": "center", "labelPadding": 11,
            "labelExpr": "(datum.value < 0.001 || datum.value > 0.049) ? format(datum.value, '.2f') : ''",
            "tickSize": {"condition": {"test": "datum.value < 0.001 || datum.value > 0.049", "value": 10}, "value": 7},
            "tickWidth": {"condition": {"test": "datum.value < 0.001 || datum.value > 0.049", "value": 2.6}, "value": 2.2}}},
        "y2": {"datum": 0.05}
      }
    },
    {
      "width": 449, "height": 77,
      "data": {"name": "pBCz"},
      "mark": {"type": "area", "interpolate": "monotone", "fill": "#d2d2d2", "stroke": "#b4b4b4", "strokeWidth": 1},
      "encoding": {
        "x": {"field": "t", "type": "quantitative", "scale": {"domain": [-1.3, 1.3], "nice": false, "zero": false},
          "axis": {"values": [-1.3,-1.2,-1.1,-1,-0.9,-0.8,-0.7,-0.6,-0.5,-0.4,-0.3,-0.2,-0.1,0,0.1,0.2,0.3,0.4,0.5,0.6,0.7,0.8,0.9,1,1.1,1.2,1.3], "title": "sec", "titleFontSize": 31, "titleX": 224.5, "titleY": 54, "titleBaseline": "middle", "titleAlign": "center", "labelPadding": 13,
            "labelExpr": "abs(datum.value*2-round(datum.value*2))<0.01 ? (datum.value < -0.01 ? '-' : '') + format(abs(datum.value), '.1f') : ''",
            "tickSize": {"condition": {"test": "abs(datum.value*2-round(datum.value*2))<0.01", "value": 10}, "value": 6},
            "tickWidth": {"condition": {"test": "abs(datum.value*2-round(datum.value*2))<0.01", "value": 2.6}, "value": 1.8}}},
        "y": {"field": "p", "type": "quantitative", "scale": {"domain": [0, 0.05], "reverse": true, "nice": false, "zero": false},
          "axis": {"values": [0, 0.01, 0.02, 0.03, 0.04, 0.05], "title": "p-value", "titleFontSize": 26, "titleX": -93, "titleY": 38.5, "titleAngle": -90, "titleBaseline": "middle", "titleAlign": "center", "labelPadding": 11,
            "labelExpr": "(datum.value < 0.001 || datum.value > 0.049) ? format(datum.value, '.2f') : ''",
            "tickSize": {"condition": {"test": "datum.value < 0.001 || datum.value > 0.049", "value": 10}, "value": 7},
            "tickWidth": {"condition": {"test": "datum.value < 0.001 || datum.value > 0.049", "value": 2.6}, "value": 2.2}}},
        "y2": {"datum": 0.05}
      }
    },
    {"width": 449, "height": 51, "data": {"name": "pNone"}, "mark": {"type": "point", "opacity": 0}},
    {"width": 449, "height": 51, "data": {"name": "pNone"}, "mark": {"type": "point", "opacity": 0}},
    {
      "width": 449, "height": 307,
      "data": {"name": "cFz"},
      "title": {"text": "C", "subtitle": "\u200b\u00a0\u00a0\u00a0\u00a0\u00a0Slow spindle band", "dx": -102, "offset": -3, "subtitlePadding": -13},
      "encoding": {
        "x": {"field": "t", "type": "quantitative", "scale": {"domain": [-1.3, 1.3], "nice": false, "zero": false},
          "axis": {"values": [-1.3,-1.2,-1.1,-1,-0.9,-0.8,-0.7,-0.6,-0.5,-0.4,-0.3,-0.2,-0.1,0,0.1,0.2,0.3,0.4,0.5,0.6,0.7,0.8,0.9,1,1.1,1.2,1.3], "title": null, "labelPadding": 13,
            "labelExpr": "abs(datum.value*2-round(datum.value*2))<0.01 ? (datum.value < -0.01 ? '-' : '') + format(abs(datum.value), '.1f') : ''",
            "tickSize": {"condition": {"test": "abs(datum.value*2-round(datum.value*2))<0.01", "value": 10}, "value": 6},
            "tickWidth": {"condition": {"test": "abs(datum.value*2-round(datum.value*2))<0.01", "value": 2.6}, "value": 1.8}}},
        "y": {"field": "v", "type": "quantitative", "scale": {"domain": [2.5, 5], "nice": false, "zero": false},
          "axis": {"values": [2.5,2.6,2.7,2.8,2.9,3,3.1,3.2,3.3,3.4,3.5,3.6,3.7,3.8,3.9,4,4.1,4.2,4.3,4.4,4.5,4.6,4.7,4.8,4.9,5], "title": "RMS", "titleFontSize": 23, "titleX": -90, "titleY": 153.5, "titleAngle": -90, "titleBaseline": "middle", "titleAlign": "center", "labelPadding": 11,
            "labelExpr": "abs(datum.value*2-round(datum.value*2))<0.01 ? format(datum.value, '.1f') : ''",
            "tickSize": {"condition": {"test": "abs(datum.value*2-round(datum.value*2))<0.01", "value": 10}, "value": 6},
            "tickWidth": {"condition": {"test": "abs(datum.value*2-round(datum.value*2))<0.01", "value": 2.6}, "value": 1.8}}}
      },
      "layer": [
        {"transform": [{"filter": "datum.cond === 'Placebo'"}], "mark": {"type": "area", "interpolate": "monotone", "color": "#000000", "opacity": 0.38}, "encoding": {"y2": {"field": "e"}}},
        {"transform": [{"filter": "datum.cond === 'Tiagabine'"}], "mark": {"type": "area", "interpolate": "monotone", "color": "#ee0000", "opacity": 0.3}, "encoding": {"y2": {"field": "e"}}},
        {"transform": [{"filter": "datum.cond === 'Placebo'"}], "mark": {"type": "line", "interpolate": "monotone", "color": "#000000", "strokeWidth": 2.2}, "encoding": {}},
        {"transform": [{"filter": "datum.cond === 'Tiagabine'"}], "mark": {"type": "line", "interpolate": "monotone", "color": "#ee0000", "strokeWidth": 3}, "encoding": {}}
      ]
    },
    {
      "width": 449, "height": 307,
      "data": {"name": "cCz"},
      "encoding": {
        "x": {"field": "t", "type": "quantitative", "scale": {"domain": [-1.3, 1.3], "nice": false, "zero": false},
          "axis": {"values": [-1.3,-1.2,-1.1,-1,-0.9,-0.8,-0.7,-0.6,-0.5,-0.4,-0.3,-0.2,-0.1,0,0.1,0.2,0.3,0.4,0.5,0.6,0.7,0.8,0.9,1,1.1,1.2,1.3], "title": null, "labelPadding": 13,
            "labelExpr": "abs(datum.value*2-round(datum.value*2))<0.01 ? (datum.value < -0.01 ? '-' : '') + format(abs(datum.value), '.1f') : ''",
            "tickSize": {"condition": {"test": "abs(datum.value*2-round(datum.value*2))<0.01", "value": 10}, "value": 6},
            "tickWidth": {"condition": {"test": "abs(datum.value*2-round(datum.value*2))<0.01", "value": 2.6}, "value": 1.8}}},
        "y": {"field": "v", "type": "quantitative", "scale": {"domain": [2.5, 5], "nice": false, "zero": false},
          "axis": {"values": [2.5,2.6,2.7,2.8,2.9,3,3.1,3.2,3.3,3.4,3.5,3.6,3.7,3.8,3.9,4,4.1,4.2,4.3,4.4,4.5,4.6,4.7,4.8,4.9,5], "title": "RMS", "titleFontSize": 23, "titleX": -90, "titleY": 153.5, "titleAngle": -90, "titleBaseline": "middle", "titleAlign": "center", "labelPadding": 11,
            "labelExpr": "abs(datum.value*2-round(datum.value*2))<0.01 ? format(datum.value, '.1f') : ''",
            "tickSize": {"condition": {"test": "abs(datum.value*2-round(datum.value*2))<0.01", "value": 10}, "value": 6},
            "tickWidth": {"condition": {"test": "abs(datum.value*2-round(datum.value*2))<0.01", "value": 2.6}, "value": 1.8}}}
      },
      "layer": [
        {"transform": [{"filter": "datum.cond === 'Placebo'"}], "mark": {"type": "area", "interpolate": "monotone", "color": "#000000", "opacity": 0.38}, "encoding": {"y2": {"field": "e"}}},
        {"transform": [{"filter": "datum.cond === 'Tiagabine'"}], "mark": {"type": "area", "interpolate": "monotone", "color": "#ee0000", "opacity": 0.3}, "encoding": {"y2": {"field": "e"}}},
        {"transform": [{"filter": "datum.cond === 'Placebo'"}], "mark": {"type": "line", "interpolate": "monotone", "color": "#000000", "strokeWidth": 2.2}, "encoding": {}},
        {"transform": [{"filter": "datum.cond === 'Tiagabine'"}], "mark": {"type": "line", "interpolate": "monotone", "color": "#ee0000", "strokeWidth": 3}, "encoding": {}}
      ]
    },
    {
      "width": 449, "height": 77,
      "data": {"name": "pCFz"},
      "mark": {"type": "area", "interpolate": "monotone", "fill": "#d2d2d2", "stroke": "#b4b4b4", "strokeWidth": 1},
      "encoding": {
        "x": {"field": "t", "type": "quantitative", "scale": {"domain": [-1.3, 1.3], "nice": false, "zero": false},
          "axis": {"values": [-1.3,-1.2,-1.1,-1,-0.9,-0.8,-0.7,-0.6,-0.5,-0.4,-0.3,-0.2,-0.1,0,0.1,0.2,0.3,0.4,0.5,0.6,0.7,0.8,0.9,1,1.1,1.2,1.3], "title": "sec", "titleFontSize": 31, "titleX": 224.5, "titleY": 54, "titleBaseline": "middle", "titleAlign": "center", "labelPadding": 13,
            "labelExpr": "abs(datum.value*2-round(datum.value*2))<0.01 ? (datum.value < -0.01 ? '-' : '') + format(abs(datum.value), '.1f') : ''",
            "tickSize": {"condition": {"test": "abs(datum.value*2-round(datum.value*2))<0.01", "value": 10}, "value": 6},
            "tickWidth": {"condition": {"test": "abs(datum.value*2-round(datum.value*2))<0.01", "value": 2.6}, "value": 1.8}}},
        "y": {"field": "p", "type": "quantitative", "scale": {"domain": [0, 0.05], "reverse": true, "nice": false, "zero": false},
          "axis": {"values": [0, 0.01, 0.02, 0.03, 0.04, 0.05], "title": "p-value", "titleFontSize": 26, "titleX": -93, "titleY": 38.5, "titleAngle": -90, "titleBaseline": "middle", "titleAlign": "center", "labelPadding": 11,
            "labelExpr": "(datum.value < 0.001 || datum.value > 0.049) ? format(datum.value, '.2f') : ''",
            "tickSize": {"condition": {"test": "datum.value < 0.001 || datum.value > 0.049", "value": 10}, "value": 7},
            "tickWidth": {"condition": {"test": "datum.value < 0.001 || datum.value > 0.049", "value": 2.6}, "value": 2.2}}},
        "y2": {"datum": 0.05}
      }
    },
    {
      "width": 449, "height": 77,
      "data": {"name": "pNone"},
      "mark": {"type": "area", "interpolate": "monotone", "fill": "#d2d2d2", "stroke": "#b4b4b4", "strokeWidth": 1},
      "encoding": {
        "x": {"field": "t", "type": "quantitative", "scale": {"domain": [-1.3, 1.3], "nice": false, "zero": false},
          "axis": {"values": [-1.3,-1.2,-1.1,-1,-0.9,-0.8,-0.7,-0.6,-0.5,-0.4,-0.3,-0.2,-0.1,0,0.1,0.2,0.3,0.4,0.5,0.6,0.7,0.8,0.9,1,1.1,1.2,1.3], "title": "sec", "titleFontSize": 31, "titleX": 224.5, "titleY": 54, "titleBaseline": "middle", "titleAlign": "center", "labelPadding": 13,
            "labelExpr": "abs(datum.value*2-round(datum.value*2))<0.01 ? (datum.value < -0.01 ? '-' : '') + format(abs(datum.value), '.1f') : ''",
            "tickSize": {"condition": {"test": "abs(datum.value*2-round(datum.value*2))<0.01", "value": 10}, "value": 6},
            "tickWidth": {"condition": {"test": "abs(datum.value*2-round(datum.value*2))<0.01", "value": 2.6}, "value": 1.8}}},
        "y": {"field": "p", "type": "quantitative", "scale": {"domain": [0, 0.05], "reverse": true, "nice": false, "zero": false},
          "axis": {"values": [0, 0.01, 0.02, 0.03, 0.04, 0.05], "title": "p-value", "titleFontSize": 26, "titleX": -93, "titleY": 38.5, "titleAngle": -90, "titleBaseline": "middle", "titleAlign": "center", "labelPadding": 11,
            "labelExpr": "(datum.value < 0.001 || datum.value > 0.049) ? format(datum.value, '.2f') : ''",
            "tickSize": {"condition": {"test": "datum.value < 0.001 || datum.value > 0.049", "value": 10}, "value": 7},
            "tickWidth": {"condition": {"test": "datum.value < 0.001 || datum.value > 0.049", "value": 2.6}, "value": 2.2}}},
        "y2": {"datum": 0.05}
      }
    }
  ]
}
